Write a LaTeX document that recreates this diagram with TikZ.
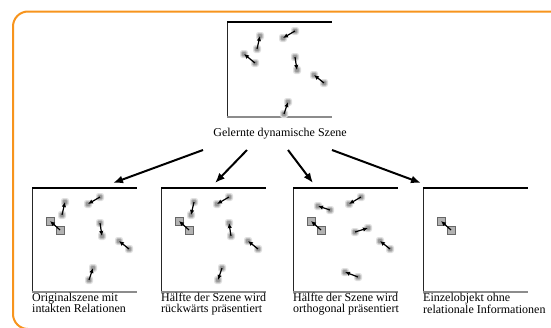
\documentclass[tikz,border=0pt]{standalone}
\usepackage{fontspec}
\setmainfont{Liberation Serif}
\usetikzlibrary{arrows.meta,calc}
\definecolor{frameorange}{HTML}{F7941D}
\tikzset{
  sceneframe/.style={draw=none,minimum width=105pt,minimum height=104pt,anchor=north west,inner sep=0pt,outer sep=0pt},
  topedge/.style={line width=1.4pt,black},
  leftedge/.style={line width=0.9pt,black!85},
  bottomedge/.style={line width=1.2pt,black!45},
  bigarrow/.style={line width=2pt,-{Latex[length=10pt,width=8pt]}},
  motion/.style={line width=1.2pt,-{Latex[length=5pt,width=4.5pt]}},
  capt/.style={font=\fontsize{12}{11}\selectfont,align=left,anchor=north west,inner sep=0pt},
  sqbox/.style={fill=black!30,draw=black!60,line width=0.8pt},
}
\newcommand\blobend[2]{%
  \fill[black!12,rounded corners=2.5pt] (#1,#2) ++(-4,-4) rectangle ++(8,8);
  \fill[black!25,rounded corners=1.5pt] (#1,#2) ++(-3,-3) rectangle ++(6,6);
  \fill[black!40,rounded corners=0.8pt] (#1,#2) ++(-2,-2) rectangle ++(4,4);}
\newcommand\mobj[4]{\blobend{#1}{#2}\blobend{#3}{#4}\draw[motion] (#1,#2) -- (#3,#4);}
\newcommand\sqobj{%
  \draw[sqbox] (18,33) ++(-4,-4) rectangle ++(8,8);
  \draw[sqbox] (28,42) ++(-4,-4) rectangle ++(8,8);
  \draw[motion] (28,42) -- (18,33);}
\newcommand\sceneedges[1]{%
  \draw[leftedge] (#1.north west) -- (#1.south west);
  \draw[bottomedge] (#1.south west) -- (#1.south east);
  \draw[topedge] (#1.north west) -- (#1.north east);}
\begin{document}
\begin{tikzpicture}[x=1pt,y=-1pt]
\useasboundingbox (0,0) rectangle (551,327);
\clip (0,0) rectangle (551,327);
\fill[white] (0,0) rectangle (551,327);
% orange frame
\draw[frameorange,line width=2pt,rounded corners=15pt] (13,11.5) rectangle (600,329);

% top scene
\node[sceneframe,minimum height=95pt] (top) at (227,22) {};
\sceneedges{top}
\begin{scope}[shift={(227,22)}]
  \mobj{30}{27}{33}{14}
  \mobj{68}{9}{56}{16}
  \mobj{28}{41}{17}{32}
  \mobj{68}{35}{70}{48}
  \mobj{97}{61}{87}{53}
  \mobj{57}{92}{61}{80}
\end{scope}
\node[font=\fontsize{12}{11}\selectfont,anchor=base,inner sep=0pt] (topcap) at (280,136) {Gelernte dynamische Szene};

% bottom scenes
\node[sceneframe] (b1) at (32,188) {};
\node[sceneframe] (b2) at (161,188) {};
\node[sceneframe] (b3) at (293,188) {};
\node[sceneframe] (b4) at (423,188) {};
\sceneedges{b1}\sceneedges{b2}\sceneedges{b3}\sceneedges{b4}

\begin{scope}[shift={(32,188)}]
  \mobj{30}{27}{33}{14}
  \mobj{68}{9}{56}{16}
  \sqobj
  \mobj{68}{35}{70}{48}
  \mobj{97}{61}{87}{53}
  \mobj{57}{92}{61}{80}
\end{scope}
\begin{scope}[shift={(161,188)}]
  \mobj{33}{14}{30}{27}
  \mobj{68}{9}{56}{16}
  \sqobj
  \mobj{70}{48}{68}{35}
  \mobj{97}{61}{87}{53}
  \mobj{61}{80}{57}{92}
\end{scope}
\begin{scope}[shift={(293,188)}]
  \mobj{37}{22}{25}{18}
  \mobj{68}{9}{56}{16}
  \sqobj
  \mobj{62}{44}{75}{40}
  \mobj{97}{61}{87}{53}
  \mobj{65}{89}{52}{84}
\end{scope}
\begin{scope}[shift={(423,188)}]
  \sqobj
\end{scope}

% captions
\node[capt] (c1) at ($(b1.south west)+(0,1)$) {Originalszene mit\\intakten Relationen};
\node[capt] (c2) at ($(b2.south west)+(0,1)$) {Hälfte der Szene wird\\rückwärts präsentiert};
\node[capt] (c3) at ($(b3.south west)+(0,1)$) {Hälfte der Szene wird\\orthogonal präsentiert};
\node[capt] (c4) at ($(b4.south west)+(0,1)$) {Einzelobjekt ohne\\relationale Informationen};

% arrows
\coordinate (s1) at (203,150); \coordinate (e1) at (113,183);
\coordinate (s2) at (247,150); \coordinate (e2) at (215,183);
\coordinate (s3) at (288,150); \coordinate (e3) at (313,183);
\coordinate (s4) at (332,150); \coordinate (e4) at (421,183);
\draw[bigarrow] (s1) -- (e1);
\draw[bigarrow] (s2) -- (e2);
\draw[bigarrow] (s3) -- (e3);
\draw[bigarrow] (s4) -- (e4);
\end{tikzpicture}
\end{document}
